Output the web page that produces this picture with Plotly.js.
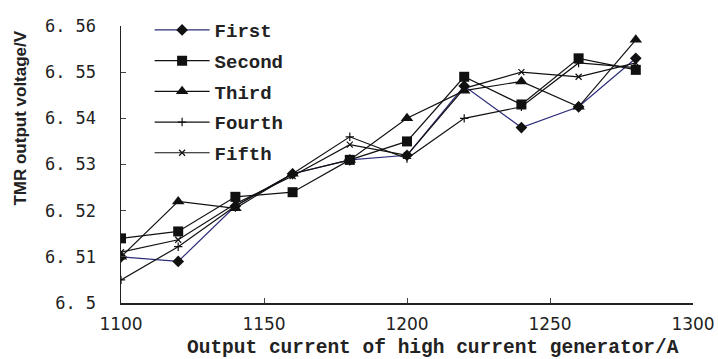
<!DOCTYPE html>
<html><head><meta charset="utf-8">
<script src="https://cdn.plot.ly/plotly-3.0.1.min.js"></script>
<style>html,body{margin:0;padding:0;background:#fff}#chart{width:718px;height:359px}</style>
</head><body><div id="chart"></div>
<script>
var current = [1100, 1120, 1140, 1160, 1180, 1200, 1220, 1240, 1260, 1280];
var first  = [6.510, 6.509, 6.521, 6.528, 6.531, 6.532, 6.547, 6.538, 6.5425, 6.553];
var second = [6.514, 6.5155, 6.523, 6.524, 6.531, 6.535, 6.549, 6.543, 6.553, 6.5505];
var third  = [6.510, 6.522, 6.5205, 6.528, 6.531, 6.540, 6.546, 6.548, 6.5425, 6.557];
var fourth = [6.505, 6.5122, 6.521, 6.528, 6.536, 6.5313, 6.540, 6.5425, 6.552, 6.551];
var fifth  = [6.511, 6.5137, 6.5215, 6.5275, 6.5343, 6.532, 6.5465, 6.550, 6.549, 6.552];
var names = ["First", "Second", "Third", "Fourth", "Fifth"];
var yTickVals = [6.50, 6.51, 6.52, 6.53, 6.54, 6.55, 6.56];
var yTickText = ["6. 5", "6. 51", "6. 52", "6. 53", "6. 54", "6. 55", "6. 56"];
var xTickVals = [1100, 1150, 1200, 1250, 1300];
var xTitle = "Output current of high current generator/A";
var yTitle = "TMR output voltage/V";

var series = [first, second, third, fourth, fifth];
var symbols = ["diamond", "square", "triangle-up", "cross-thin", "x-thin"];
var sizes = [9, 10, 11, 6, 6];
var colors = ["#2b2b7a", "#111", "#111", "#111", "#111"];
var traces = series.map(function(s, i){
  return {
    x: current, y: s, name: names[i], type: "scatter", mode: "lines+markers",
    legendgroup: "g" + i,
    line: {color: colors[i], width: 1.2},
    marker: {symbol: symbols[i], size: sizes[i], color: "#111",
             line: {color: "#111", width: i >= 3 ? 1.2 : 0}}
  };
});

var monoFont = "Liberation Mono, Courier New, monospace";
var layout = {
  width: 718, height: 359,
  margin: {l: 121, r: 25, t: 25, b: 56},
  paper_bgcolor: "#fff", plot_bgcolor: "#fff",
  showlegend: true,
  legend: {x: 0.05, y: 1.05, xanchor: "left", yanchor: "top", itemwidth: 55,
           bgcolor: "rgba(0,0,0,0)", traceorder: "grouped", tracegroupgap: 3,
           font: {family: monoFont, size: 19, color: "#222", weight: "bold"}},
  xaxis: {range: [1100, 1300], tickvals: xTickVals, ticks: "inside", ticklen: 5,
          showgrid: false, zeroline: false, showline: true, linecolor: "#222", linewidth: 1.5,
          ticklabelstandoff: 5,
          tickfont: {family: "DejaVu Sans, sans-serif", size: 17, color: "#222"}},
  yaxis: {range: [6.5, 6.56], tickvals: yTickVals, ticktext: yTickText, ticks: "inside", ticklen: 5,
          showgrid: false, zeroline: false, showline: true, linecolor: "#222", linewidth: 1.5,
          ticklabelstandoff: 20,
          tickfont: {family: "DejaVu Sans Mono, monospace", size: 17, color: "#222"}},
  annotations: [
    {text: xTitle, xref: "paper", yref: "paper", x: 0.545, y: -0.163, xanchor: "center", yanchor: "middle",
     showarrow: false, font: {family: monoFont, size: 19.5, color: "#222", weight: "bold"}},
    {text: yTitle, xref: "paper", yref: "paper", x: -0.175, y: 0.669, xanchor: "center", yanchor: "middle",
     textangle: -90, showarrow: false,
     font: {family: "Liberation Sans, Arial, sans-serif", size: 17, color: "#222", weight: "bold"}}
  ]
};
Plotly.newPlot("chart", traces, layout, {displayModeBar: false, staticPlot: true});
</script></body></html>
